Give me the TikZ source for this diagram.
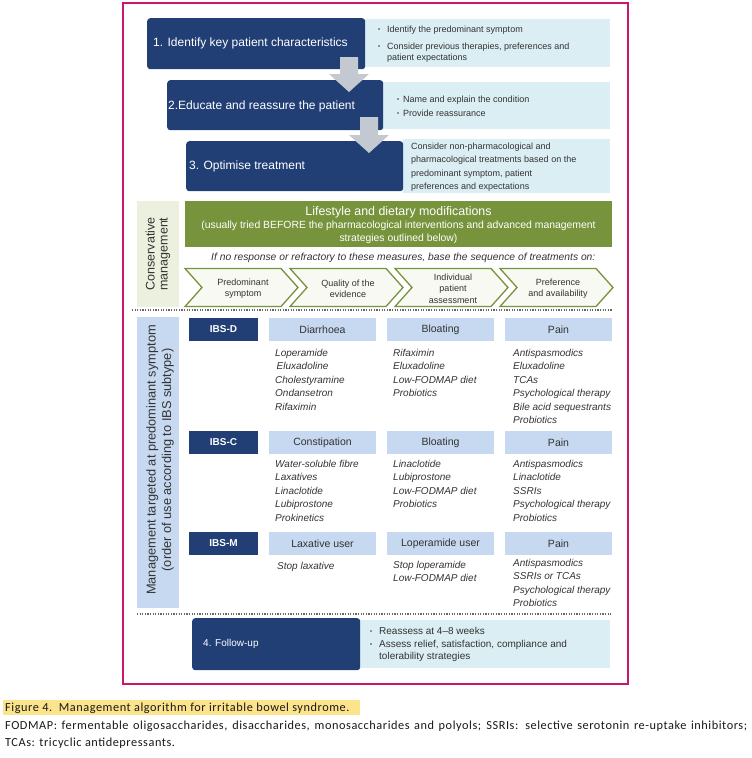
\documentclass[tikz,border=0pt]{standalone}
\usepackage{fontspec}
\setmainfont{Liberation Sans}
\newfontfamily\capfont[LetterSpace=4.5]{Carlito}
\usetikzlibrary{calc}
\definecolor{navy}{HTML}{213F75}
\definecolor{liteblue}{HTML}{DBEEF4}
\definecolor{hdrblue}{HTML}{C6D9F1}
\definecolor{conslbl}{HTML}{EBF1DE}
\definecolor{olive}{HTML}{77933C}
\definecolor{chevfill}{HTML}{F7F9F2}
\definecolor{arrowgray}{HTML}{C4C9D1}
\definecolor{framepink}{HTML}{C8186E}
\definecolor{txt}{HTML}{333333}
\definecolor{dotgray}{HTML}{666666}
\definecolor{hilite}{HTML}{FCE48C}
\definecolor{captxt}{HTML}{1A1718}
\newcommand{\fsz}[2]{\fontsize{#1}{#2}\selectfont}
\newcommand{\bul}[1]{\makebox[#1][l]{\raisebox{0.8pt}{\fontsize{6}{6}\selectfont\textbullet}}}
\begin{document}
\begin{tikzpicture}[x=1pt,y=-1pt,
  darkbox/.style={fill=navy, rounded corners=3pt, inner sep=0, anchor=north west},
  litebox/.style={fill=liteblue, inner sep=0, anchor=north west},
  hdr/.style={fill=hdrblue, inner sep=0, minimum width=107pt, minimum height=23pt, font=\fsz{10.5}{12}, text=txt},
  ibs/.style={fill=navy, inner sep=0, minimum width=69pt, minimum height=23pt, font=\fsz{10}{12}\bfseries, text=white},
  items/.style={inner sep=0, anchor=base west, font=\fsz{10}{13.4}\itshape, text=txt},
  btxt/.style={inner sep=0, anchor=base west, text=txt},
  wtxt/.style={inner sep=0, anchor=base west, text=white},
  chev/.style={draw=olive, fill=chevfill, line width=1.3pt, line join=miter},
  chevtxt/.style={inner sep=0, align=center, font=\fsz{9}{11.3}, text=txt},
  dotline/.style={draw=dotgray, line width=1.8pt, dash pattern=on 1.2pt off 1.4pt},
  garrow/.style={fill=arrowgray},
  rotlbl/.style={inner sep=0, rotate=90, align=center, text=txt},
  capt/.style={inner sep=0, anchor=base west, text=captxt, font=\capfont\fsz{12.3}{14}}
]
\useasboundingbox (0,0) rectangle (752,758);

% frame
\draw[framepink, line width=2pt] (123,3) rectangle (628,684);

% step boxes
\node[litebox, minimum width=245pt, minimum height=48pt] (l1) at (365,19) {};
\node[darkbox, minimum width=218pt, minimum height=51pt] (b1) at (147,18) {};
\node[wtxt, font=\fsz{12}{14}] (b1t) at (153,46) {1. Identify key patient characteristics};
\node[btxt, font=\fsz{9}{11}] (l1t) at (378,32) {\begin{tabular}[t]{@{}l@{}l@{}}\bul{9pt}&Identify the predominant symptom\\[6pt]\bul{9pt}&Consider previous therapies, preferences and\\&patient expectations\end{tabular}};

\node[litebox, minimum width=227pt, minimum height=47pt] (l2) at (383,82) {};
\node[darkbox, minimum width=216pt, minimum height=50pt] (b2) at (167,80) {};
\node[wtxt, font=\fsz{12}{14}] (b2t) at (168,109) {2.Educate and reassure the patient};
\node[btxt, font=\fsz{9}{11}] (l2t) at (397,102) {\begin{tabular}[t]{@{}l@{}l@{}}\bul{6pt}&Name and explain the condition\\[3pt]\bul{6pt}&Provide reassurance\end{tabular}};

\node[litebox, minimum width=207pt, minimum height=54pt] (l3) at (403,139) {};
\node[darkbox, minimum width=217pt, minimum height=50pt] (b3) at (186,141) {};
\node[wtxt, font=\fsz{12}{14}] (b3t) at (189,169) {3. Optimise treatment};
\node[btxt, font=\fsz{9}{13.5}] (l3t) at (411,149) {\begin{tabular}[t]{@{}l@{}}Consider non-pharmacological and\\pharmacological treatments based on the\\predominant symptom, patient\\preferences and expectations\end{tabular}};

% block arrows
\fill[garrow] (340,57) -- (358,57) -- (358,74) -- (369,74) -- (349,92) -- (329,74) -- (340,74) -- cycle;
\fill[garrow] (360,117) -- (378,117) -- (378,135) -- (389,135) -- (369,153) -- (349,135) -- (360,135) -- cycle;

% conservative management
\node[fill=conslbl, inner sep=0, anchor=north west, minimum width=42pt, minimum height=106pt] (consbox) at (137,201) {};
\node[rotlbl, font=\fsz{12.5}{13}] (cons) at (158,254) {Conservative\\management};
\node[fill=olive, inner sep=0, anchor=north west, minimum width=427pt, minimum height=46pt] (life) at (185,201) {};
\node[inner sep=0, anchor=base, text=white, font=\fsz{12.4}{14}] (lifet) at (398.5,215) {Lifestyle and dietary modifications};
\node[inner sep=0, anchor=base, text=white, font=\fsz{10.4}{12}] (lifet2) at (398.5,228.5) {(usually tried BEFORE the pharmacological interventions and advanced management};
\node[inner sep=0, anchor=base, text=white, font=\fsz{10.4}{12}] (lifet3) at (398.5,241.5) {strategies outlined below)};
\node[btxt, font=\fsz{10.3}{12}\itshape] (ifno) at (211,260) {If no response or refractory to these measures, base the sequence of treatments on:};

\foreach \i/\lbl in {0/{Predominant\\symptom},1/{Quality of the\\evidence},2/{Individual\\patient\\assessment},3/{Preference\\and availability}} {
  \pgfmathsetmacro\xa{185+105*\i}
  \draw[chev] (\xa,268.5) -- ++(96,0) -- ++(17,19) -- ++(-17,19) -- ++(-96,0) -- ++(17,-19) -- cycle;
  \node[chevtxt] (ch\i) at (\xa+58,288.5) {\lbl};
}

\draw[dotline] (132,310) -- (612,310);

% management targeted
\node[fill=hdrblue, inner sep=0, anchor=north west, minimum width=42pt, minimum height=291pt] (mgbox) at (137,317) {};
\node[rotlbl, font=\fsz{12.8}{15.5}] (mg) at (160,460) {Management targeted at predominant symptom\\(order of use according to IBS subtype)};

\node[ibs] (ibsd) at (223.5,329.5) {IBS-D};
\node[hdr] (h11) at (322.5,329.5) {Diarrhoea};
\node[hdr] (h12) at (440.5,329.5) {Bloating};
\node[hdr] (h13) at (558.5,329.5) {Pain};
\node[items] (i11) at (275,356.5) {\begin{tabular}[t]{@{}l@{}}Loperamide\\\hspace{1.5pt}Eluxadoline\\Cholestyramine\\Ondansetron\\Rifaximin\end{tabular}};
\node[items] (i12) at (393,356.5) {\begin{tabular}[t]{@{}l@{}}Rifaximin\\Eluxadoline\\Low-FODMAP diet\\Probiotics\end{tabular}};
\node[items] (i13) at (513,356.5) {\begin{tabular}[t]{@{}l@{}}Antispasmodics\\Eluxadoline\\TCAs\\Psychological therapy\\Bile acid sequestrants\\Probiotics\end{tabular}};

\node[ibs] (ibsc) at (223.5,442.5) {IBS-C};
\node[hdr] (h21) at (322.5,442.5) {Constipation};
\node[hdr] (h22) at (440.5,442.5) {Bloating};
\node[hdr] (h23) at (558.5,442.5) {Pain};
\node[items] (i21) at (275,467.5) {\begin{tabular}[t]{@{}l@{}}Water-soluble fibre\\Laxatives\\Linaclotide\\Lubiprostone\\Prokinetics\end{tabular}};
\node[items] (i22) at (393,467.5) {\begin{tabular}[t]{@{}l@{}}Linaclotide\\Lubiprostone\\Low-FODMAP diet\\Probiotics\end{tabular}};
\node[items] (i23) at (513,467.5) {\begin{tabular}[t]{@{}l@{}}Antispasmodics\\Linaclotide\\SSRIs\\Psychological therapy\\Probiotics\end{tabular}};

\node[ibs] (ibsm) at (223.5,543.5) {IBS-M};
\node[hdr] (h31) at (322.5,543.5) {Laxative user};
\node[hdr] (h32) at (440.5,543.5) {Loperamide user};
\node[hdr] (h33) at (558.5,543.5) {Pain};
\node[items] (i31) at (277,569.5) {\begin{tabular}[t]{@{}l@{}}Stop laxative\end{tabular}};
\node[items] (i32) at (393,568.5) {\begin{tabular}[t]{@{}l@{}}Stop loperamide\\Low-FODMAP diet\end{tabular}};
\node[items] (i33) at (513,566.5) {\begin{tabular}[t]{@{}l@{}}Antispasmodics\\SSRIs or TCAs\\Psychological therapy\\Probiotics\end{tabular}};

\draw[dotline] (137,614) -- (612,614);

% follow-up
\node[litebox, minimum width=250pt, minimum height=48pt] (l4) at (360,620) {};
\node[darkbox, minimum width=168pt, minimum height=52pt] (b4) at (192,618) {};
\node[wtxt, font=\fsz{10}{12}] (b4t) at (203,646.5) {4. Follow-up};
\node[btxt, font=\fsz{10}{12.5}] (l4t) at (370,634.5) {\begin{tabular}[t]{@{}l@{}l@{}}\bul{9pt}&Reassess at 4--8 weeks\\\bul{9pt}&Assess relief, satisfaction, compliance and\\&tolerability strategies\end{tabular}};

% caption
\fill[hilite] (3,700) rectangle (360,715);
\node[capt] (cap1) at (5,711) {Figure 4.\ \ Management algorithm for irritable bowel syndrome.};
\node[capt] (cap2) at (5,729) {\makebox[742pt][s]{FODMAP: fermentable oligosaccharides, disaccharides, monosaccharides and polyols; SSRIs: selective serotonin re-uptake inhibitors;}};
\node[capt] (cap3) at (5,746) {TCAs: tricyclic antidepressants.};
\end{tikzpicture}
\end{document}
